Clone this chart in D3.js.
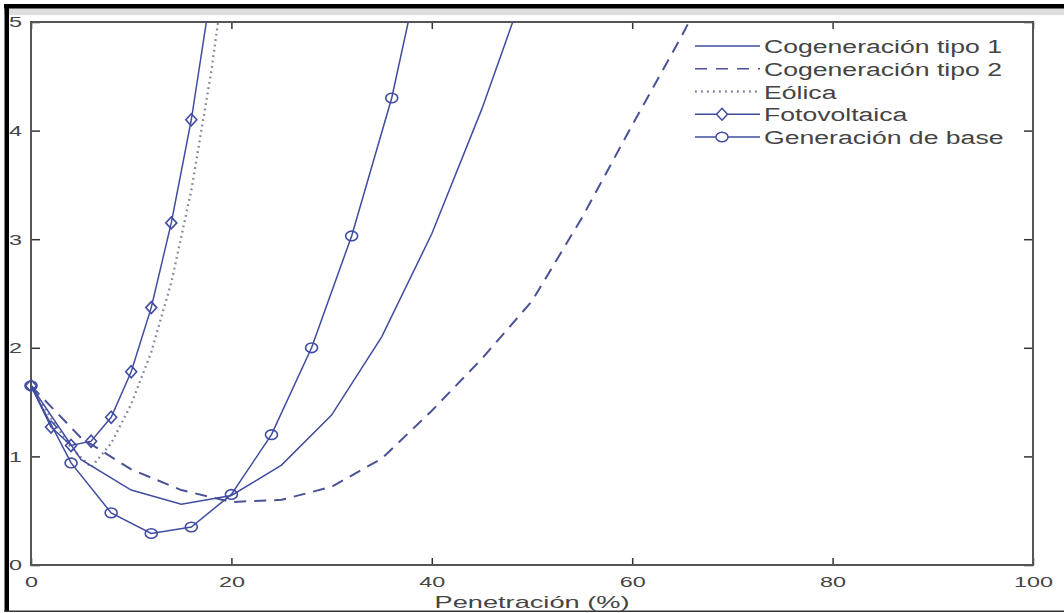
<!DOCTYPE html>
<html><head><meta charset="utf-8">
<script src="https://cdn.jsdelivr.net/npm/d3@7"></script>
<style>
html,body{margin:0;padding:0;background:#fff;}
svg{display:block;font-family:"Liberation Sans",Arial,sans-serif;}
</style></head>
<body>
<svg id="chart" width="1064" height="613"></svg>
<script>
// ---- data ----
const xTicks = [0, 20, 40, 60, 80, 100];
const yTicks = [0, 1, 2, 3, 4, 5];
const xLabel = "Penetración (%)";
const seriesNames = ["Cogeneración tipo 1", "Cogeneración tipo 2", "Eólica", "Fotovoltaica", "Generación de base"];

const cog1X = [0, 5, 10, 15, 20, 25, 30, 35, 40, 45, 50];
const cog1Y = [1.65, 0.97, 0.69, 0.56, 0.64, 0.92, 1.38, 2.1, 3.05, 4.2, 5.5];

const cog2X = [0, 5, 10, 15, 20, 25, 30, 35, 40, 45, 50, 55, 60, 65, 70];
const cog2Y = [1.65, 1.17, 0.88, 0.69, 0.58, 0.60, 0.72, 0.98, 1.42, 1.9, 2.43, 3.2, 4.05, 4.88, 5.8];

const eolX = [0, 2, 4, 6, 8, 10, 12, 14, 16, 18, 20];
const eolY = [1.65, 1.35, 1.08, 0.9, 1.12, 1.48, 1.96, 2.6, 3.45, 4.55, 5.9];

const fotoX = [0, 2, 4, 6, 8, 10, 12, 14, 16, 18];
const fotoY = [1.65, 1.27, 1.10, 1.14, 1.36, 1.78, 2.37, 3.15, 4.1, 5.3];

const baseX = [0, 4, 8, 12, 16, 20, 24, 28, 32, 36, 40];
const baseY = [1.65, 0.94, 0.48, 0.29, 0.35, 0.65, 1.2, 2.0, 3.03, 4.3, 6.0];

// ---- layout ----
const L = 31, R = 1033, T = 22, B = 565;
const svg = d3.select("#chart");
const x = d3.scaleLinear().domain([0, 100]).range([L, R]);
const y = d3.scaleLinear().domain([0, 5]).range([B, T]);

const blue = "#3f4c9f";
const dashCol = "#4b5195";
const dotCol = "#85889f";

// outer image frame
svg.append("rect").attr("x", 0).attr("y", 0).attr("width", 1064).attr("height", 613).attr("fill", "#fff");
svg.append("rect").attr("x", 4).attr("y", 8).attr("width", 1060).attr("height", 7).attr("fill", "#dedede");
svg.append("rect").attr("x", 4).attr("y", 4).attr("width", 1060).attr("height", 4.5).attr("fill", "#000");
svg.append("rect").attr("x", 4.5).attr("y", 4).attr("width", 4.5).attr("height", 608).attr("fill", "#000");
svg.append("rect").attr("x", 4.5).attr("y", 610.5).attr("width", 1060).attr("height", 1.5).attr("fill", "#333");

// clip
svg.append("clipPath").attr("id", "clip").append("rect")
  .attr("x", L).attr("y", T).attr("width", R - L).attr("height", B - T);

// axes (ticks inward)
const fmt = d3.format("d");
const gx = svg.append("g").attr("transform", `translate(0,${B})`)
  .call(d3.axisBottom(x).tickValues(xTicks).tickFormat(fmt).tickSizeInner(-7).tickSizeOuter(0).tickPadding(9));
const gxt = svg.append("g").attr("transform", `translate(0,${T})`)
  .call(d3.axisTop(x).tickValues(xTicks).tickSizeInner(-7).tickSizeOuter(0).tickFormat(""));
const gy = svg.append("g").attr("transform", `translate(${L},0)`)
  .call(d3.axisLeft(y).tickValues(yTicks).tickFormat(fmt).tickSizeInner(-9).tickSizeOuter(0).tickPadding(9));
const gyr = svg.append("g").attr("transform", `translate(${R},0)`)
  .call(d3.axisRight(y).tickValues(yTicks).tickSizeInner(-9).tickSizeOuter(0).tickFormat(""));
[gx, gxt, gy, gyr].forEach(g => {
  g.select(".domain").remove();
  g.selectAll("line").attr("stroke", "#333").attr("stroke-width", 1.5);
});
gx.selectAll("text").attr("font-size", 15).attr("fill", "#444").attr("font-family", "Liberation Sans, Arial, sans-serif").attr("dy", "0.85em");
gy.selectAll("text").attr("font-size", 15).attr("fill", "#444").attr("font-family", "Liberation Sans, Arial, sans-serif");
// horizontally stretched glyphs as in the reference
[gx, gy].forEach(g => g.selectAll("text").each(function(d) {
  const n = fmt(d).length;
  d3.select(this).attr("textLength", n * 13).attr("lengthAdjust", "spacingAndGlyphs");
}));
gy.selectAll(".tick text").attr("x", -9);

// frame
svg.append("rect").attr("x", L).attr("y", T).attr("width", R - L).attr("height", B - T)
  .attr("fill", "none").attr("stroke", "#555").attr("stroke-width", 2);

// x label
svg.append("text").attr("x", (L + R) / 2).attr("y", 608).attr("text-anchor", "middle")
  .attr("font-size", 17).attr("fill", "#444").text(xLabel)
  .attr("textLength", 195).attr("lengthAdjust", "spacingAndGlyphs");

// lines
const line = d3.line().x(d => x(d[0])).y(d => y(d[1]));
const zip = (a, b) => a.map((v, i) => [v, b[i]]);
const plot = svg.append("g").attr("clip-path", "url(#clip)");

plot.append("path").datum(zip(eolX, eolY)).attr("d", line).attr("fill", "none")
  .attr("stroke", dotCol).attr("stroke-width", 2.3).attr("stroke-dasharray", "1.8 3.6");
plot.append("path").datum(zip(cog2X, cog2Y)).attr("d", line).attr("fill", "none")
  .attr("stroke", dashCol).attr("stroke-width", 2).attr("stroke-dasharray", "12 8");
plot.append("path").datum(zip(cog1X, cog1Y)).attr("d", line).attr("fill", "none")
  .attr("stroke", blue).attr("stroke-width", 1.5);
plot.append("path").datum(zip(fotoX, fotoY)).attr("d", line).attr("fill", "none")
  .attr("stroke", blue).attr("stroke-width", 1.5);
plot.append("path").datum(zip(baseX, baseY)).attr("d", line).attr("fill", "none")
  .attr("stroke", blue).attr("stroke-width", 1.5);

// markers
const diamond = (cx, cy) => `M${cx},${cy - 6}L${cx + 5.5},${cy}L${cx},${cy + 6}L${cx - 5.5},${cy}Z`;
svg.append("g").selectAll("path").data(zip(fotoX, fotoY).filter(d => d[1] <= 5))
  .join("path").attr("d", d => diamond(x(d[0]), y(d[1])))
  .attr("fill", "none").attr("stroke", blue).attr("stroke-width", 1.6);
svg.append("g").selectAll("ellipse").data(zip(baseX, baseY).filter(d => d[1] <= 5))
  .join("ellipse").attr("cx", d => x(d[0])).attr("cy", d => y(d[1])).attr("rx", 6).attr("ry", 4.8)
  .attr("fill", "none").attr("stroke", blue).attr("stroke-width", 1.6);

// legend
const legY0 = 46, legDy = 22.75, lx0 = 695, lx1 = 760, tx = 764;
const styles = [
  {stroke: blue, dash: null, w: 1.4},
  {stroke: dashCol, dash: "12 9", w: 1.6},
  {stroke: dotCol, dash: "1.8 4.2", w: 2.3},
  {stroke: blue, dash: null, w: 1.4, marker: "d"},
  {stroke: blue, dash: null, w: 1.4, marker: "o"}
];
const leg = svg.append("g");
seriesNames.forEach((name, i) => {
  const ly = legY0 + i * legDy;
  const s = styles[i];
  const l = leg.append("line").attr("x1", lx0).attr("x2", lx1).attr("y1", ly).attr("y2", ly)
    .attr("stroke", s.stroke).attr("stroke-width", s.w);
  if (s.dash) l.attr("stroke-dasharray", s.dash);
  const mx = 722;
  if (s.marker === "d") leg.append("path").attr("d", diamond(mx, ly)).attr("fill", "#fff").attr("stroke", blue).attr("stroke-width", 1.5);
  if (s.marker === "o") leg.append("ellipse").attr("cx", mx).attr("cy", ly).attr("rx", 6).attr("ry", 4.8).attr("fill", "#fff").attr("stroke", blue).attr("stroke-width", 1.5);
  leg.append("text").attr("x", tx).attr("y", ly + 7).attr("font-size", 18).attr("fill", "#444").text(name);
});
// stretch legend texts uniformly using the first entry as reference
const texts = leg.selectAll("text").nodes();
const ratio = 238 / texts[0].getComputedTextLength();
texts.forEach(n => {
  const w = n.getComputedTextLength() * ratio;
  d3.select(n).attr("textLength", w).attr("lengthAdjust", "spacingAndGlyphs");
});
</script>
</body></html>
